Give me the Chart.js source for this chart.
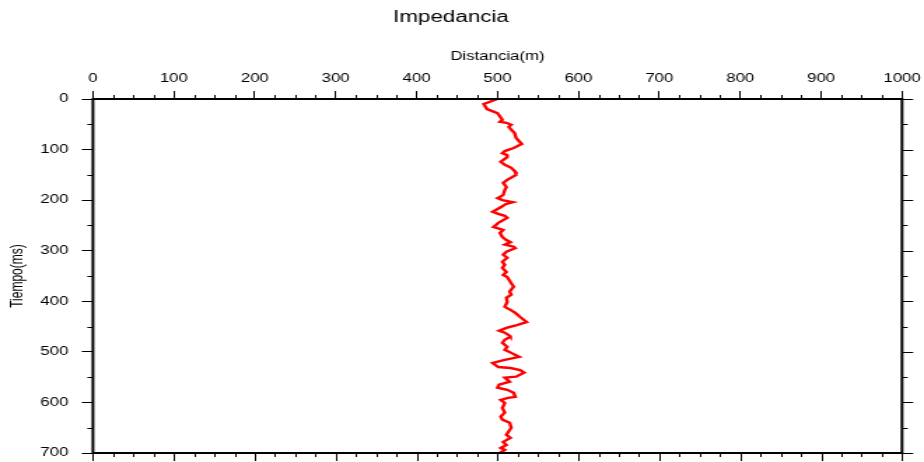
<!DOCTYPE html>
<html>
<head>
<meta charset="utf-8">
<title>Impedancia</title>
<script src="https://cdn.jsdelivr.net/npm/chart.js@4/dist/chart.umd.min.js"></script>
<style>
  html, body { margin: 0; padding: 0; background: #fff; overflow: hidden; }
  /* the plot is laid out at 660px wide and widened to fill the 924px page */
  #wrap { width: 660px; height: 462px; transform: scaleX(1.4); transform-origin: 0 0; }
</style>
</head>
<body>
<div id="wrap"><canvas id="c"></canvas></div>
<script>
// Tiempo (ms) down the profile and the impedance trace position (m)
const tiempo = [
  0, 10, 20, 28, 41, 45, 47, 51, 55, 61, 67, 77, 89, 97, 103, 107, 111,
  115, 124, 130, 136, 144, 150, 160, 166, 174, 180, 190, 196, 200, 204, 208, 213, 223, 227, 231,
  235, 245, 253, 259, 265, 273, 279, 283, 288, 292, 295, 302, 308, 314, 322, 328, 334, 342, 348,
  352, 362, 371, 381, 387, 393, 401, 411, 417, 423, 431, 441, 447, 452, 458, 462, 468,
  470, 476, 482, 490, 496, 502, 510, 516, 522, 530, 532, 536, 541, 549, 551, 559, 565, 571, 575, 581, 589,
  591, 595, 601, 611, 620, 628, 634, 640, 650, 664, 670, 678, 684, 690, 694, 700
];
const distancia = [
  500, 483, 487, 500, 506, 503, 511, 517, 514, 517, 521, 523, 530, 520, 509, 506, 512,
  512, 504, 509, 517, 522, 523, 512, 507, 511, 509, 507, 500, 506, 519, 510, 505, 494, 501, 509,
  512, 501, 495, 507, 503, 506, 511, 516, 509, 520, 522, 511, 507, 512, 506, 509, 506, 511, 507,
  512, 516, 520, 515, 517, 511, 512, 509, 516, 522, 528, 536, 524, 512, 502, 509, 515,
  516, 509, 506, 512, 509, 517, 527, 509, 494, 501, 516, 528, 533, 523, 509, 515, 502, 500, 512, 520, 522,
  513, 504, 509, 506, 509, 504, 506, 515, 517, 511, 516, 507, 511, 504, 509, 503
];

// axis tick labels
const distanciaTicks = [0, 100, 200, 300, 400, 500, 600, 700, 800, 900, 1000];
const tiempoTicks = [0, 100, 200, 300, 400, 500, 600, 700];

const FONT = "'Liberation Sans', Arial, Helvetica, sans-serif";

// closed frame plus minor ticks and the mirrored ticks on the bottom/right sides
const framePlugin = {
  id: 'frame',
  afterDraw(chart) {
    const { ctx, chartArea: a, scales: { x, y } } = chart;
    ctx.save();
    ctx.strokeStyle = '#000';
    ctx.lineWidth = 1;
    ctx.beginPath();
    for (let v = 0; v <= 1000; v += 25) {
      const px = Math.round(x.getPixelForValue(v)) + 0.5;
      const major = v % 100 === 0;
      const len = major ? 8 : 4;
      if (!major) { ctx.moveTo(px, a.top); ctx.lineTo(px, a.top - len); }
      ctx.moveTo(px, a.bottom); ctx.lineTo(px, a.bottom + len);
    }
    for (let v = 0; v <= 700; v += 50) {
      const py = Math.round(y.getPixelForValue(v)) + 0.5;
      const major = v % 100 === 0;
      const len = major ? 8 : 4;
      if (!major) { ctx.moveTo(a.left, py); ctx.lineTo(a.left - len, py); }
      ctx.moveTo(a.right, py); ctx.lineTo(a.right + len, py);
    }
    ctx.stroke();
    ctx.lineWidth = 2;
    ctx.strokeRect(a.left, a.top, a.right - a.left, a.bottom - a.top);
    ctx.restore();
  }
};

const points = tiempo.map((t, i) => ({ x: distancia[i], y: t }));

new Chart(document.getElementById('c'), {
  type: 'scatter',
  data: {
    datasets: [{
      data: points,
      showLine: true,
      borderColor: 'rgb(255,0,0)',
      borderWidth: 2.4,
      pointRadius: 0,
      tension: 0,
      fill: false
    }]
  },
  options: {
    responsive: true,
    maintainAspectRatio: false,
    animation: false,
    events: [],
    layout: { padding: { left: 0, right: 15.7, top: 0, bottom: 9 } },
    plugins: {
      legend: { display: false },
      tooltip: { enabled: false },
      title: {
        display: true,
        text: 'Impedancia',
        color: '#000',
        font: { family: FONT, size: 16, weight: 'normal' },
        padding: { top: 8, bottom: 0 }
      }
    },
    scales: {
      x: {
        type: 'linear',
        position: 'top',
        min: 0,
        max: 1000,
        afterBuildTicks: s => { s.ticks = distanciaTicks.map(v => ({ value: v })); },
        afterFit: s => { s.height = 71.8; s.paddingLeft = 0; s.paddingRight = 0; },
        ticks: {
          color: '#000', padding: 5, maxRotation: 0,
          font: { family: FONT, size: 12 },
          callback: v => String(v)
        },
        grid: { drawOnChartArea: false, drawTicks: true, tickLength: 8, color: '#000', lineWidth: 1 },
        border: { display: false },
        title: {
          display: true,
          text: 'Distancia(m)',
          color: '#000',
          font: { family: FONT, size: 12 },
          padding: { top: 22.6, bottom: 0 }
        }
      },
      y: {
        type: 'linear',
        reverse: true,
        min: 0,
        max: 700,
        afterBuildTicks: s => { s.ticks = tiempoTicks.map(v => ({ value: v })); },
        afterFit: s => { s.width = 66.4; s.paddingTop = 0; s.paddingBottom = 0; },
        ticks: {
          color: '#000', padding: 9.6,
          font: { family: FONT, size: 12 },
          callback: v => String(v)
        },
        grid: { drawOnChartArea: false, drawTicks: true, tickLength: 8, color: '#000', lineWidth: 1 },
        border: { display: false },
        title: {
          display: true,
          text: 'Tiempo(ms)',
          color: '#000',
          font: { family: FONT, size: 12 },
          padding: { top: 5.7, bottom: 0 }
        }
      }
    }
  },
  plugins: [framePlugin]
});
</script>
</body>
</html>
